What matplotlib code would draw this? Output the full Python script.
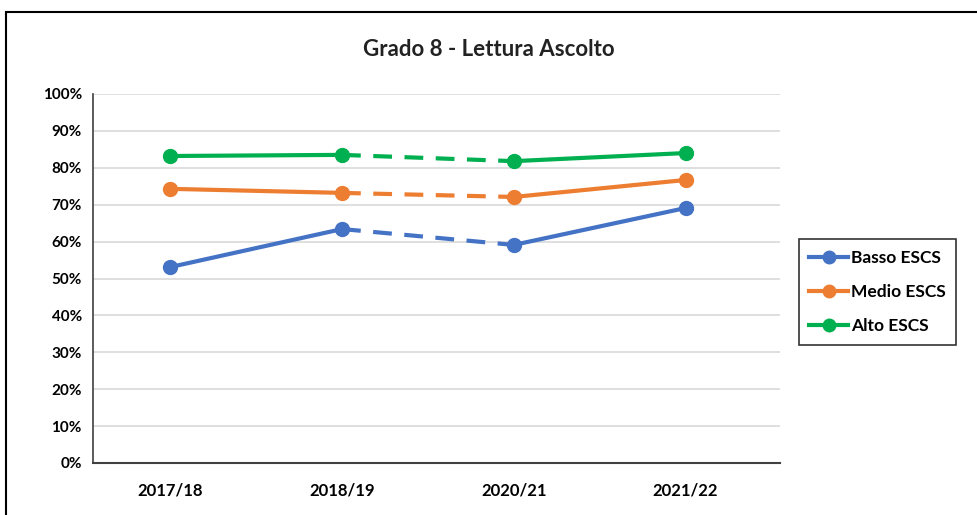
import matplotlib
matplotlib.use("Agg")
import matplotlib.pyplot as plt
from matplotlib.patches import Rectangle
from matplotlib.lines import Line2D

categories = ["2017/18", "2018/19", "2020/21", "2021/22"]
basso = [53.1, 63.4, 59.1, 69.1]
medio = [74.3, 73.2, 72.1, 76.7]
alto = [83.2, 83.5, 81.8, 84.0]
series_names = ["Basso ESCS", "Medio ESCS", "Alto ESCS"]
colors = ["#4472C4", "#ED7D31", "#00B050"]
yticks = list(range(0, 101, 10))

plt.rcParams['font.family'] = ['Lato', 'DejaVu Sans']

fig = plt.figure(figsize=(9.78, 5.15), dpi=100)
ax = fig.add_axes([93/978, 1-463/515, (780-93)/978, (463-94)/515])

x = list(range(len(categories)))
handles = []
for vals, name, c in zip([basso, medio, alto], series_names, colors):
    ax.plot(x[:2], vals[:2], color=c, lw=3, solid_capstyle='round', zorder=3)
    ax.plot(x[1:3], vals[1:3], color=c, lw=3, ls=(0, (4.5, 3)), zorder=3)
    ax.plot(x[2:], vals[2:], color=c, lw=3, solid_capstyle='round', zorder=3)
    ax.plot(x, vals, ls='none', marker='o', ms=10, color=c, zorder=4)
    handles.append(Line2D([], [], color=c, lw=3, marker='o', ms=9, label=name))

ax.set_xlim(-0.45, 3.55)
ax.set_ylim(0, 100)
ax.set_yticks(yticks)
ax.set_yticklabels([f"{v}%" for v in yticks], fontsize=11, fontweight='bold')
ax.set_xticks(x)
ax.set_xticklabels(categories, fontsize=12, fontweight='bold')
ax.tick_params(axis='both', length=0, pad=8)
ax.tick_params(axis='x', pad=14)
ax.grid(axis='y', color='#D9D9D9', lw=1.2)
ax.set_axisbelow(True)
for s in ['top', 'right']:
    ax.spines[s].set_visible(False)
ax.spines['left'].set_color('#404040')
ax.spines['bottom'].set_color('#404040')
ax.spines['left'].set_linewidth(1.2)
ax.spines['bottom'].set_linewidth(1.5)

fig.text(0.5, 1-50/515, "Grado 8 - Lettura Ascolto", ha='center', va='center',
         fontsize=16, fontweight='bold', color='#222222')

leg = fig.legend(handles=handles, loc='center left', bbox_to_anchor=(799/978, 1-292/515),
                 frameon=True, fancybox=False, edgecolor='black',
                 prop={'weight': 'bold', 'size': 12.5}, handlelength=2.2, handletextpad=0.2,
                 labelspacing=1.05, borderpad=0.6, borderaxespad=0)
leg.get_frame().set_linewidth(1.2)

fig.patches.append(Rectangle((6/978, -0.01), 1.0, 1-12/515 + 0.01, transform=fig.transFigure,
                             fill=False, edgecolor='black', lw=1.5))

fig.savefig("out.png", dpi=100)
